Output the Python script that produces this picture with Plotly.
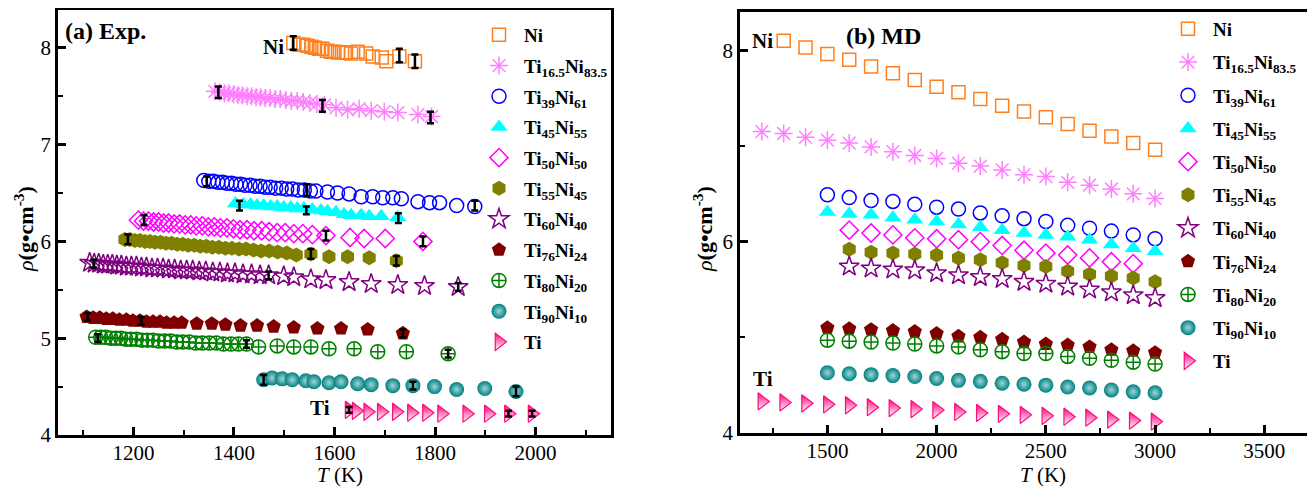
import plotly.graph_objects as go

# ---------------- series names ----------------
names = ["Ni", "Ti<sub>16.5</sub>Ni<sub>83.5</sub>", "Ti<sub>39</sub>Ni<sub>61</sub>",
         "Ti<sub>45</sub>Ni<sub>55</sub>", "Ti<sub>50</sub>Ni<sub>50</sub>", "Ti<sub>55</sub>Ni<sub>45</sub>",
         "Ti<sub>60</sub>Ni<sub>40</sub>", "Ti<sub>76</sub>Ni<sub>24</sub>", "Ti<sub>80</sub>Ni<sub>20</sub>",
         "Ti<sub>90</sub>Ni<sub>10</sub>", "Ti"]

# ---------------- (a) experimental data ----------------
exp_Ni_T = [1518, 1529, 1538, 1546, 1554, 1561, 1569, 1576, 1585, 1593, 1600, 1607, 1615, 1623, 1633, 1646, 1663, 1676, 1694, 1703, 1729, 1760]
exp_Ni_r = [8.05, 8.03, 8.03, 8.02, 8.01, 8.00, 7.99, 7.99, 7.97, 7.96, 7.96, 7.95, 7.95, 7.95, 7.94, 7.96, 7.94, 7.91, 7.90, 7.86, 7.91, 7.86]

exp_T165_T = [1362, 1372, 1381, 1390, 1399, 1408, 1417, 1426, 1435, 1444, 1453, 1462, 1472, 1482, 1492, 1503, 1514, 1526, 1538, 1551, 1565, 1580, 1603, 1626, 1649, 1673, 1699, 1726, 1766, 1793]
exp_T165_r = [7.55, 7.54, 7.53, 7.53, 7.52, 7.51, 7.51, 7.50, 7.50, 7.49, 7.49, 7.48, 7.48, 7.47, 7.47, 7.46, 7.45, 7.45, 7.44, 7.43, 7.42, 7.41, 7.38, 7.36, 7.37, 7.35, 7.34, 7.33, 7.31, 7.29]

exp_T39_T = [1340, 1350, 1359, 1368, 1377, 1386, 1395, 1404, 1413, 1422, 1432, 1442, 1452, 1462, 1472, 1483, 1494, 1505, 1516, 1528, 1540, 1552, 1563, 1586, 1606, 1629, 1653, 1676, 1696, 1716, 1733, 1766, 1789, 1809, 1843, 1879]
exp_T39_r = [6.63, 6.62, 6.62, 6.61, 6.61, 6.60, 6.60, 6.59, 6.59, 6.58, 6.58, 6.57, 6.57, 6.56, 6.56, 6.55, 6.55, 6.54, 6.54, 6.53, 6.53, 6.52, 6.52, 6.51, 6.50, 6.49, 6.46, 6.46, 6.45, 6.45, 6.44, 6.41, 6.40, 6.40, 6.37, 6.36]

exp_T45_T = [1403, 1419, 1433, 1446, 1459, 1473, 1486, 1499, 1513, 1526, 1539, 1556, 1573, 1586, 1603, 1619, 1633, 1653, 1669, 1693, 1726]
exp_T45_r = [6.39, 6.38, 6.38, 6.37, 6.37, 6.36, 6.36, 6.35, 6.35, 6.34, 6.34, 6.33, 6.32, 6.31, 6.30, 6.28, 6.27, 6.27, 6.26, 6.26, 6.25]

exp_T50_T = [1210, 1220, 1230, 1240, 1250, 1260, 1270, 1281, 1292, 1303, 1314, 1325, 1337, 1349, 1361, 1373, 1386, 1399, 1412, 1426, 1440, 1455, 1470, 1486, 1502, 1519, 1537, 1556, 1583, 1631, 1659, 1701, 1776]
exp_T50_r = [6.22, 6.21, 6.21, 6.20, 6.20, 6.19, 6.19, 6.18, 6.18, 6.17, 6.17, 6.16, 6.16, 6.15, 6.15, 6.14, 6.14, 6.13, 6.12, 6.12, 6.11, 6.11, 6.10, 6.09, 6.09, 6.08, 6.08, 6.07, 6.06, 6.04, 6.03, 6.03, 6.00]

exp_T55_T = [1183, 1193, 1203, 1213, 1223, 1233, 1243, 1254, 1265, 1276, 1287, 1298, 1309, 1321, 1333, 1345, 1357, 1370, 1383, 1396, 1410, 1424, 1439, 1454, 1470, 1487, 1505, 1524, 1553, 1589, 1626, 1669, 1723]
exp_T55_r = [6.02, 6.02, 6.01, 6.01, 6.00, 6.00, 5.99, 5.99, 5.98, 5.98, 5.97, 5.97, 5.96, 5.96, 5.95, 5.95, 5.94, 5.94, 5.93, 5.93, 5.92, 5.92, 5.91, 5.90, 5.90, 5.89, 5.88, 5.86, 5.87, 5.84, 5.84, 5.83, 5.80]

exp_T60_T = [1113, 1122, 1131, 1140, 1149, 1158, 1167, 1176, 1186, 1196, 1206, 1216, 1226, 1237, 1248, 1259, 1270, 1282, 1294, 1306, 1318, 1331, 1344, 1358, 1372, 1387, 1402, 1418, 1435, 1452, 1469, 1499, 1519, 1553, 1583, 1629, 1673, 1726, 1779, 1846]
exp_T60_r = [5.78, 5.77, 5.77, 5.76, 5.76, 5.76, 5.75, 5.75, 5.74, 5.74, 5.74, 5.73, 5.73, 5.72, 5.72, 5.72, 5.71, 5.71, 5.70, 5.70, 5.70, 5.69, 5.69, 5.68, 5.68, 5.67, 5.67, 5.66, 5.66, 5.65, 5.65, 5.64, 5.63, 5.61, 5.60, 5.58, 5.56, 5.55, 5.54, 5.53]

exp_T76_T = [1107, 1120, 1133, 1146, 1159, 1172, 1186, 1199, 1213, 1226, 1239, 1253, 1266, 1281, 1296, 1326, 1356, 1383, 1413, 1446, 1479, 1519, 1566, 1613, 1666, 1736]
exp_T76_r = [5.22, 5.21, 5.21, 5.20, 5.20, 5.19, 5.19, 5.18, 5.18, 5.17, 5.17, 5.17, 5.16, 5.16, 5.16, 5.15, 5.15, 5.14, 5.13, 5.13, 5.12, 5.11, 5.10, 5.10, 5.09, 5.05]

exp_T80_T = [1125, 1135, 1145, 1155, 1165, 1175, 1185, 1195, 1206, 1217, 1228, 1239, 1250, 1262, 1274, 1286, 1298, 1311, 1324, 1337, 1351, 1365, 1379, 1394, 1409, 1425, 1449, 1486, 1519, 1553, 1589, 1639, 1686, 1743, 1826]
exp_T80_r = [5.01, 5.01, 5.01, 5.00, 5.00, 5.00, 4.99, 4.99, 4.99, 4.98, 4.98, 4.98, 4.97, 4.97, 4.97, 4.96, 4.96, 4.96, 4.95, 4.95, 4.95, 4.95, 4.94, 4.94, 4.94, 4.94, 4.91, 4.92, 4.91, 4.91, 4.89, 4.89, 4.86, 4.86, 4.84]

exp_T90_T = [1459, 1476, 1496, 1516, 1543, 1559, 1589, 1613, 1646, 1673, 1716, 1756, 1799, 1843, 1899, 1961]
exp_T90_r = [4.57, 4.59, 4.58, 4.57, 4.56, 4.55, 4.54, 4.55, 4.53, 4.52, 4.51, 4.51, 4.50, 4.47, 4.48, 4.45]

exp_Ti_T = [1629, 1643, 1666, 1693, 1723, 1753, 1783, 1813, 1863, 1906, 1946, 1993]
exp_Ti_r = [4.26, 4.25, 4.24, 4.24, 4.24, 4.23, 4.23, 4.22, 4.22, 4.22, 4.22, 4.22]

# error bars (T, rho, +/- value) for each experimental series
err_T = [[1518, 1729, 1760], [1369, 1576, 1791], [1346, 1545, 1879], [1411, 1544, 1727],
         [1221, 1583, 1776], [1189, 1553, 1723], [1121, 1469, 1846], [1109, 1216, 1736],
         [1129, 1425, 1826], [1459, 1756, 1961], [1629, 1946, 1993]]
err_r = [[8.05, 7.92, 7.86], [7.54, 7.40, 7.28], [6.62, 6.53, 6.37], [6.37, 6.32, 6.24],
         [6.22, 6.06, 6.00], [6.02, 5.87, 5.80], [5.77, 5.65, 5.53], [5.22, 5.18, 5.05],
         [5.00, 4.94, 4.84], [4.57, 4.51, 4.45], [4.26, 4.22, 4.22]]
err_v = [[0.07, 0.07, 0.07], [0.06, 0.06, 0.06], [0.05, 0.06, 0.05], [0.05, 0.04, 0.05],
         [0.05, 0.05, 0.05], [0.05, 0.05, 0.05], [0.04, 0.04, 0.04], [0.04, 0.04, 0.04],
         [0.04, 0.04, 0.04], [0.05, 0.04, 0.05], [0.03, 0.03, 0.03]]

# ---------------- (b) MD data ----------------
md_Ni_T = [1300, 1400, 1500, 1600, 1700, 1800, 1900, 2000, 2100, 2200, 2300, 2400, 2500, 2600, 2700, 2800, 2900, 3000]
md_Ni_r = [8.10, 8.03, 7.96, 7.90, 7.83, 7.76, 7.69, 7.62, 7.56, 7.49, 7.42, 7.36, 7.30, 7.23, 7.16, 7.10, 7.03, 6.96]

md_T165_T = [1200, 1300, 1400, 1500, 1600, 1700, 1800, 1900, 2000, 2100, 2200, 2300, 2400, 2500, 2600, 2700, 2800, 2900, 3000]
md_T165_r = [7.15, 7.13, 7.09, 7.06, 7.03, 6.99, 6.94, 6.90, 6.87, 6.82, 6.79, 6.75, 6.70, 6.68, 6.62, 6.59, 6.55, 6.50, 6.45]

md_T39_T = [1500, 1600, 1700, 1800, 1900, 2000, 2100, 2200, 2300, 2400, 2500, 2600, 2700, 2800, 2900, 3000]
md_T39_r = [6.49, 6.46, 6.43, 6.42, 6.39, 6.36, 6.34, 6.30, 6.27, 6.24, 6.21, 6.17, 6.14, 6.11, 6.07, 6.03]

md_T45_T = [1500, 1600, 1700, 1800, 1900, 2000, 2100, 2200, 2300, 2400, 2500, 2600, 2700, 2800, 2900, 3000]
md_T45_r = [6.31, 6.29, 6.28, 6.25, 6.23, 6.21, 6.18, 6.15, 6.12, 6.09, 6.07, 6.05, 6.02, 5.97, 5.93, 5.90]

md_T50_T = [1600, 1700, 1800, 1900, 2000, 2100, 2200, 2300, 2400, 2500, 2600, 2700, 2800, 2900]
md_T50_r = [6.12, 6.09, 6.07, 6.04, 6.03, 6.02, 6.00, 5.96, 5.91, 5.88, 5.86, 5.83, 5.79, 5.77]

md_T55_T = [1600, 1700, 1800, 1900, 2000, 2100, 2200, 2300, 2400, 2500, 2600, 2700, 2800, 2900, 3000]
md_T55_r = [5.92, 5.89, 5.88, 5.87, 5.86, 5.83, 5.81, 5.78, 5.75, 5.74, 5.69, 5.66, 5.64, 5.62, 5.58]

md_T60_T = [1600, 1700, 1800, 1900, 2000, 2100, 2200, 2300, 2400, 2500, 2600, 2700, 2800, 2900, 3000]
md_T60_r = [5.74, 5.72, 5.71, 5.70, 5.67, 5.65, 5.63, 5.61, 5.58, 5.56, 5.53, 5.50, 5.47, 5.44, 5.41]

md_T76_T = [1500, 1600, 1700, 1800, 1900, 2000, 2100, 2200, 2300, 2400, 2500, 2600, 2700, 2800, 2900, 3000]
md_T76_r = [5.10, 5.09, 5.08, 5.07, 5.06, 5.04, 5.01, 5.00, 4.98, 4.95, 4.93, 4.92, 4.90, 4.87, 4.86, 4.84]

md_T80_T = [1500, 1600, 1700, 1800, 1900, 2000, 2100, 2200, 2300, 2400, 2500, 2600, 2700, 2800, 2900, 3000]
md_T80_r = [4.97, 4.96, 4.95, 4.94, 4.93, 4.91, 4.90, 4.87, 4.85, 4.83, 4.83, 4.80, 4.78, 4.76, 4.74, 4.72]

md_T90_T = [1500, 1600, 1700, 1800, 1900, 2000, 2100, 2200, 2300, 2400, 2500, 2600, 2700, 2800, 2900, 3000]
md_T90_r = [4.63, 4.62, 4.61, 4.60, 4.59, 4.57, 4.55, 4.54, 4.52, 4.51, 4.50, 4.48, 4.47, 4.45, 4.43, 4.42]

md_Ti_T = [1200, 1300, 1400, 1500, 1600, 1700, 1800, 1900, 2000, 2100, 2200, 2300, 2400, 2500, 2600, 2700, 2800, 2900, 3000]
md_Ti_r = [4.33, 4.32, 4.31, 4.30, 4.29, 4.27, 4.26, 4.25, 4.24, 4.22, 4.21, 4.20, 4.19, 4.18, 4.17, 4.16, 4.14, 4.13, 4.12]

exp_T = [exp_Ni_T, exp_T165_T, exp_T39_T, exp_T45_T, exp_T50_T, exp_T55_T, exp_T60_T, exp_T76_T, exp_T80_T, exp_T90_T, exp_Ti_T]
exp_r = [exp_Ni_r, exp_T165_r, exp_T39_r, exp_T45_r, exp_T50_r, exp_T55_r, exp_T60_r, exp_T76_r, exp_T80_r, exp_T90_r, exp_Ti_r]
md_T = [md_Ni_T, md_T165_T, md_T39_T, md_T45_T, md_T50_T, md_T55_T, md_T60_T, md_T76_T, md_T80_T, md_T90_T, md_Ti_T]
md_r = [md_Ni_r, md_T165_r, md_T39_r, md_T45_r, md_T50_r, md_T55_r, md_T60_r, md_T76_r, md_T80_r, md_T90_r, md_Ti_r]

# ---------------- marker styles ----------------
colors = ["#FF7F1E", "#FF80FF", "#0000FF", "#00FFFF", "#FF00FF", "#808000",
          "#800080", "#800000", "#008000", "#008080", "#FF0A7F"]
symbols = ["square-open", "asterisk-open", "circle-open", "triangle-up", "diamond-open", "hexagon",
           "star-open", "pentagon", "circle-cross-open", "circle", "triangle-right"]
sizes = [13, 15, 14, 15, 14, 15, 15, 15, 14, 15, 15]


def marker_for(i):
    m = dict(symbol=symbols[i], size=sizes[i], color=colors[i])
    if symbols[i].endswith("-open"):
        m["line"] = dict(width=1.5, color=colors[i])
    else:
        m["line"] = dict(width=0)
    if i == 9:
        m["gradient"] = dict(type="radial", color="#9fd6d6")
    if i == 10:
        m["gradient"] = dict(type="vertical", color="white")
        m["line"] = dict(width=1.2, color=colors[i])
    return m


serif = "Liberation Serif"
W, H = 1315, 487
OX, OY = 8, 8   # page offset of the figure inside the browser window


def px(x):
    return (x - OX) / W


def py(y):
    return 1 - (y - OY) / H


fig = go.Figure()

for i in range(len(names)):
    fig.add_trace(go.Scatter(x=exp_T[i], y=exp_r[i], mode="markers", name=names[i],
                             marker=marker_for(i), xaxis="x", yaxis="y",
                             legend="legend", legendgroup="a%d" % i, showlegend=True))
for i in range(len(names)):
    fig.add_trace(go.Scatter(x=err_T[i], y=err_r[i], mode="markers",
                             marker=dict(size=2, color="rgba(0,0,0,0)"),
                             error_y=dict(type="data", array=err_v[i], color="black",
                                          thickness=2.5, width=3.5),
                             xaxis="x", yaxis="y", showlegend=False, hoverinfo="skip"))
for i in range(len(names)):
    fig.add_trace(go.Scatter(x=md_T[i], y=md_r[i], mode="markers", name=names[i],
                             marker=marker_for(i), xaxis="x2", yaxis="y2",
                             legend="legend2", legendgroup="b%d" % i, showlegend=True))

axis_common = dict(showgrid=False, zeroline=False, showline=True, linecolor="black",
                   linewidth=2.5, mirror=True, ticks="inside", ticklen=8, tickwidth=2.5,
                   tickcolor="black", tickfont=dict(family=serif, size=21, color="black"),
                   automargin=False)

fig.update_layout(
    width=W, height=H, margin=dict(l=0, r=0, t=0, b=0),
    paper_bgcolor="white", plot_bgcolor="white",
    xaxis=dict(domain=[px(58), px(611)], range=[1050, 2150], dtick=200, tick0=0,
               ticklabelstandoff=-3,
               minor=dict(dtick=100, ticks="inside", ticklen=5, tickwidth=2, tickcolor="black"),
               anchor="y", **axis_common),
    yaxis=dict(domain=[py(435), py(10)], range=[4, 8.39], dtick=1, tick0=0,
               minor=dict(dtick=0.5, ticks="inside", ticklen=5, tickwidth=2, tickcolor="black"),
               anchor="x", **axis_common),
    xaxis2=dict(domain=[px(740), px(1308)], range=[1100, 3700], dtick=500, tick0=0,
                ticklabelstandoff=-3,
                minor=dict(dtick=250, ticks="inside", ticklen=5, tickwidth=2, tickcolor="black"),
                anchor="y2", **axis_common),
    yaxis2=dict(domain=[py(433), py(12)], range=[4, 8.4], dtick=2, tick0=0,
                minor=dict(dtick=1, ticks="inside", ticklen=5, tickwidth=2, tickcolor="black"),
                anchor="x2", **axis_common),
    legend=dict(x=px(466 + OX), y=py(8 + OY), xanchor="left", yanchor="top",
                bgcolor="rgba(0,0,0,0)", borderwidth=0, tracegroupgap=3, itemwidth=40,
                font=dict(family=serif, size=19, color="black", weight="bold")),
    legend2=dict(x=px(1155 + OX), y=py(2 + OY), xanchor="left", yanchor="top",
                 bgcolor="rgba(0,0,0,0)", borderwidth=0, tracegroupgap=5.5, itemwidth=40,
                 font=dict(family=serif, size=19, color="black", weight="bold")),
    showlegend=True,
)

ann = []
lab = dict(family=serif, size=21, color="black")


def add_text(text, x, y, xref="paper", yref="paper", font=lab, angle=0):
    ann.append(dict(text=text, x=x, y=y, xref=xref, yref=yref, showarrow=False,
                    xanchor="center", yanchor="middle", font=font, textangle=angle))


big = dict(family=serif, size=24, color="black")
add_text("<b>(a)</b> <b>Exp.</b>", px(106), py(31), font=big)
add_text("<b>(b)</b> <b>MD</b>", px(883), py(36), font=big)
add_text("<b>Ni</b>", 1479, 8.01, "x", "y")
add_text("<b>Ti</b>", 1571, 4.28, "x", "y")
add_text("<b>Ni</b>", 1203, 8.10, "x2", "y2")
add_text("<b>Ti</b>", 1203, 4.56, "x2", "y2")
tfont = dict(family=serif, size=21, color="black")
add_text("<i>T</i> (K)", px(340), py(475), font=tfont)
add_text("<i>T</i> (K)", px(1043), py(475), font=tfont)
yfont = dict(family=serif, size=22, color="black")
add_text("<i>ρ</i><b>(g•cm<sup>-3</sup>)</b>", px(24), py(229), font=yfont, angle=-90)
add_text("<i>ρ</i><b>(g•cm<sup>-3</sup>)</b>", px(703), py(229), font=yfont, angle=-90)
fig.update_layout(annotations=ann)

fig.write_html("out.html")
